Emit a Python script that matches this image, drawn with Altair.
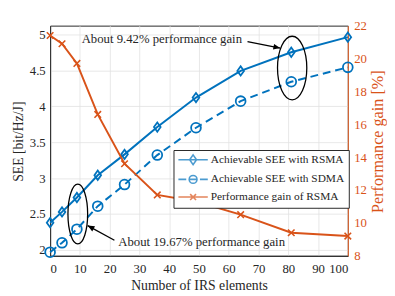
import altair as alt
import pandas as pd

# ---------------- data ----------------
n_elements = [0, 4, 9, 16, 25, 36, 49, 64, 81, 100]
see_rsma = [2.38, 2.53, 2.73, 3.04, 3.33, 3.71, 4.12, 4.49, 4.75, 4.96]
see_sdma = [1.97, 2.10, 2.29, 2.61, 2.91, 3.32, 3.70, 4.07, 4.34, 4.54]
gain_rsma = [21.4, 20.9, 19.7, 16.6, 13.6, 11.7, 11.3, 10.5, 9.4, 9.2]

series_names = ["Achievable SEE with RSMA", "Achievable SEE with SDMA", "Performance gain of RSMA"]
x_ticks = [0, 10, 20, 30, 40, 50, 60, 70, 80, 90, 100]
left_ticks = [2, 2.5, 3, 3.5, 4, 4.5, 5]
right_ticks = [8, 10, 12, 14, 16, 18, 20, 22]

note_texts = ["About 9.42% performance gain", "About 19.67% performance gain"]

# ---------------- styles ----------------
FONT = "Liberation Serif"
BLUE = "#0072BD"
ORANGE = "#D95319"
AX = "#262626"
GRID = "#e2e2e2"

DIAMOND = "M0,-1L0.72,0L0,1L-0.72,0Z"
XMARK = "M-1,-1L1,1M-1,1L1,-1"
ARROWHEAD = "M0,0L-0.42,1L0.42,1Z"
ELL1 = "M0,-1A0.46,1,0,1,1,0,1A0.46,1,0,1,1,0,-1Z"
ELL2 = "M0,-1A0.33,1,0,1,1,0,1A0.33,1,0,1,1,0,-1Z"
# legend glyphs (unit = 5 px; symbol box is 10 px, line runs 30 px)
LEG_RSMA = "M-1,0L5,0M2,-1L2.7,0L2,1L1.3,0Z"
LEG_SDMA = ("M-1,0L0.6,0M3.4,0L5,0M1.2,0L2.8,0"
            "M2.8,0A0.8,0.8,0,1,1,1.2,0A0.8,0.8,0,1,1,2.8,0Z")
LEG_GAIN = "M-1,0L5,0M1.4,-0.6L2.6,0.6M1.4,0.6L2.6,-0.6"

# ---------------- tables ----------------
rsma_df = pd.DataFrame({"n": n_elements, "see": see_rsma})
sdma_df = pd.DataFrame({"n": n_elements, "see": see_sdma})
gain_df = pd.DataFrame({"n": n_elements, "gain": gain_rsma})
legend_df = pd.DataFrame({"series": series_names, "n": [0, 0, 0], "gain": [10, 10, 10]})

notes_df = pd.DataFrame({"n": [10.6, 22.9], "see": [4.93, 2.115], "label": note_texts})
ell1_df = pd.DataFrame({"n": [81.3], "see": [4.53]})
ell2_df = pd.DataFrame({"n": [9.3], "see": [2.50]})
arrow_start_df = pd.DataFrame({"n": [66.3, 21.6], "see": [4.896, 2.135],
                               "n2": [77.3, 12.6], "see2": [4.809, 2.34]})
arrow_head_df = pd.DataFrame({"n": [77.3, 12.6], "see": [4.809, 2.34], "ang": [100.9, 298.7]})

# ---------------- encodings ----------------
xscale = alt.Scale(domain=[0, 100], nice=False, zero=False)
lscale = alt.Scale(domain=[1.92, 5.12], nice=False, zero=False)
rscale = alt.Scale(domain=[8, 22], nice=False, zero=False)

x_axis = alt.Axis(values=x_ticks, title="Number of IRS elements", grid=True, ticks=False,
                  labelPadding=7, titleX=152, titleY=30, titleAlign="center",
                  titleBaseline="middle", domainColor=AX, labelColor=AX, titleColor=AX)
yl_axis = alt.Axis(orient="left", values=left_ticks, format="~g", title="SEE [bit/Hz/J]",
                   grid=True, ticks=False, labelPadding=5, titleX=-32, titleY=118,
                   titleAngle=270, titleAlign="center", titleBaseline="middle",
                   domainColor=AX, labelColor=AX, titleColor=AX)
yr_axis = alt.Axis(orient="right", values=right_ticks, title="Performance gain [%]",
                   grid=False, ticks=False, labelPadding=6, titleFontSize=16.5,
                   titleX=30, titleY=118, titleAngle=270, titleAlign="center",
                   titleBaseline="middle",
                   domainColor=ORANGE, labelColor=ORANGE, titleColor=ORANGE)

x_enc = alt.X("n:Q", scale=xscale, axis=x_axis)
yl_enc = alt.Y("see:Q", scale=lscale, axis=yl_axis)
yr_enc = alt.Y("gain:Q", scale=rscale, axis=yr_axis)

# ---------------- left (SEE) layers ----------------
rsma_line = alt.Chart(rsma_df).mark_line(color=BLUE, strokeWidth=2).encode(x=x_enc, y=yl_enc)
sdma_line = alt.Chart(sdma_df).mark_line(color=BLUE, strokeWidth=2, strokeDash=[8, 5]).encode(x=x_enc, y=yl_enc)
rsma_pts = alt.Chart(rsma_df).mark_point(shape=DIAMOND, size=90, color=BLUE, filled=False,
                                         strokeWidth=1.8, opacity=1).encode(x=x_enc, y=yl_enc)
sdma_pts = alt.Chart(sdma_df).mark_point(shape="circle", size=100, color=BLUE, filled=False,
                                         strokeWidth=1.8, opacity=1).encode(x=x_enc, y=yl_enc)

notes = alt.Chart(notes_df).mark_text(font=FONT, fontSize=13, color=AX, align="left",
                                      baseline="middle").encode(x=x_enc, y=yl_enc, text="label:N")
ell1 = alt.Chart(ell1_df).mark_point(shape=ELL1, size=4225, color="black", filled=False,
                                     strokeWidth=1.3, opacity=1).encode(x=x_enc, y=yl_enc)
ell2 = alt.Chart(ell2_df).mark_point(shape=ELL2, size=3721, color="black", filled=False,
                                     strokeWidth=1.3, opacity=1).encode(x=x_enc, y=yl_enc)
arrow_lines = alt.Chart(arrow_start_df).mark_rule(color="black", strokeWidth=1.3).encode(
    x=x_enc, y=yl_enc, x2="n2:Q", y2="see2:Q")
arrow_heads = alt.Chart(arrow_head_df).mark_point(shape=ARROWHEAD, size=196, color="black",
                                                  filled=True, opacity=1).encode(
    x=x_enc, y=yl_enc, angle=alt.Angle("ang:Q", scale=None))

left = alt.layer(rsma_line, sdma_line, rsma_pts, sdma_pts, ell1, ell2,
                 arrow_lines, arrow_heads, notes)

# ---------------- right (gain) layers ----------------
gain_line = alt.Chart(gain_df).mark_line(color=ORANGE, strokeWidth=2).encode(x=x_enc, y=yr_enc)
gain_pts = alt.Chart(gain_df).mark_point(shape=XMARK, size=45, color=ORANGE, filled=False,
                                         strokeWidth=1.6, opacity=1).encode(x=x_enc, y=yr_enc)

leg = alt.Legend(title=None, orient="none", legendX=126, legendY=127)
legend_layer = alt.Chart(legend_df).transform_filter("false").mark_point(filled=False).encode(
    x=x_enc, y=yr_enc,
    shape=alt.Shape("series:N", scale=alt.Scale(domain=series_names,
                                                  range=[LEG_RSMA, LEG_SDMA, LEG_GAIN]),
                    legend=leg),
    color=alt.Color("series:N", scale=alt.Scale(domain=series_names,
                                                  range=[BLUE, BLUE, ORANGE]),
                    legend=leg),
)

right = alt.layer(gain_line, gain_pts, legend_layer)

chart = alt.layer(left, right).resolve_scale(y="independent").properties(
    width=304, height=235,
    autosize=alt.AutoSizeParams(type="none"),
    padding={"left": 43, "top": 15, "right": 40, "bottom": 35},
).configure_view(
    stroke=AX, strokeWidth=1
).configure_axis(
    labelFont=FONT, titleFont=FONT, labelFontSize=13, titleFontSize=14,
    titleFontWeight="normal", gridColor=GRID, gridWidth=0.8, domainWidth=1,
).configure_legend(
    symbolSize=100, symbolStrokeWidth=1.6, symbolFillColor="transparent",
    labelFont=FONT, labelFontSize=11.6, labelColor=AX, labelOffset=22,
    rowPadding=3, padding=4, strokeColor=AX, fillColor="white", labelLimit=300,
)

chart.save("out.html", embed_options={"renderer": "svg", "actions": False})
